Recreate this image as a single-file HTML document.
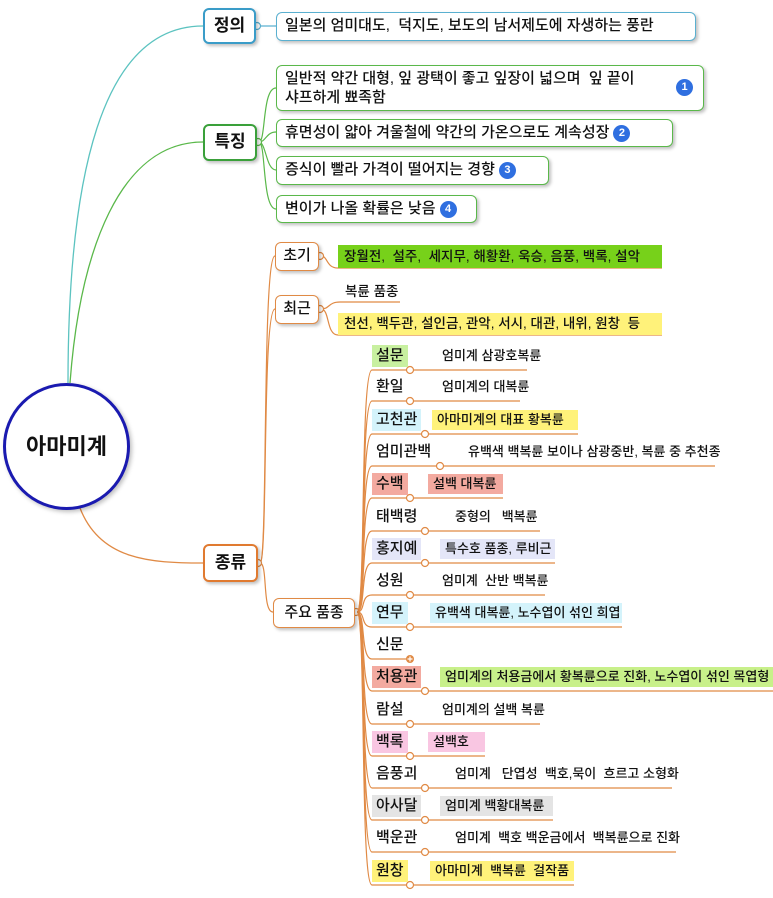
<!DOCTYPE html>
<html><head><meta charset="utf-8">
<style>
body{margin:0;width:773px;height:898px;background:#fff;position:relative;overflow:hidden;font-family:"Liberation Sans","Noto Sans CJK KR",sans-serif;color:#111;font-weight:500}
.a{position:absolute;white-space:nowrap}
.box{position:absolute;background:#fff;border-radius:6px;box-shadow:2px 2px 3px rgba(0,0,0,.25);box-sizing:border-box}
.t{position:absolute;white-space:nowrap;font-size:15px;line-height:20px}
.d{position:absolute;white-space:nowrap;font-size:13px;line-height:20px}
.n{display:inline-block;width:17px;height:17px;border-radius:50%;background:#2f6fe0;color:#fff;font-size:11px;line-height:17px;text-align:center;font-weight:bold;vertical-align:middle;margin-left:4px}
</style></head><body>
<svg class="a" style="left:0;top:0" width="773" height="898" fill="none">
<path d="M68 383 C68 180 100 26 203 26" stroke="#5cc3c0" stroke-width="1.3"/>
<path d="M70 383 C80 250 120 142 203 142" stroke="#5ab84a" stroke-width="1.3"/>
<path d="M80 508 C100 560 150 563 203 563" stroke="#e08a45" stroke-width="1.3"/>
<path d="M258 26 H276" stroke="#5ab0d0" stroke-width="1.2"/>
<g stroke="#5ab84a" stroke-width="1.2">
<path d="M259 142 C266 142 262 88 276 88"/>
<path d="M259 142 C266 142 266 132 276 132"/>
<path d="M259 142 C266 142 266 170 276 170"/>
<path d="M259 142 C266 142 262 209 276 209"/>
</g>
<g stroke="#e08a45" stroke-width="1.2">
<path d="M260 563 C268 563 262 256 275 256"/>
<path d="M260 563 C268 563 262 309 275 309"/>
<path d="M260 563 C268 563 262 612 273 612"/>
<path d="M321 256 C328 256 326 268 338 268 H662"/>
<path d="M321 309 C330 309 328 302 340 302 H400"/>
<path d="M321 309 C330 309 326 335 338 335 H662"/>
</g>
<g fill="#fff" stroke="#e08a45" stroke-width="1.2">
<circle cx="257" cy="26" r="3.5" stroke="#5ab0d0"/>
<circle cx="258" cy="142" r="3.5" stroke="#5ab84a"/>
<circle cx="258" cy="563" r="3.5"/>
<circle cx="320" cy="256" r="3.5"/>
<circle cx="320" cy="309" r="3.5"/>
<circle cx="356" cy="612" r="3.5"/>
</g>
</svg>
<svg class="a" style="left:0;top:0" width="773" height="898" fill="none" id="rs"></svg>

<div class="a" style="left:3px;top:383px;width:127px;height:127px;border:3px solid #1a1ab0;border-radius:50%;box-sizing:border-box;background:#fff;box-shadow:2px 2px 4px rgba(0,0,0,.25);text-align:center;line-height:121px;font-size:22px;font-weight:bold">아마미계</div>

<div class="box" style="left:203px;top:8px;width:53px;height:36px;border:2.5px solid #3a9cc8;text-align:center;line-height:31px;font-size:17px;font-weight:bold">정의</div>
<div class="box" style="left:276px;top:12px;width:420px;height:29px;border:1.5px solid #5ab0d0;padding-left:8px;font-size:15px;line-height:26px">일본의 엄미대도,&nbsp; 덕지도, 보도의 남서제도에 자생하는 풍란</div>

<div class="box" style="left:203px;top:124px;width:54px;height:37px;border:2.5px solid #3aa03a;text-align:center;line-height:32px;font-size:17px;font-weight:bold">특징</div>
<div class="box" style="left:276px;top:65px;width:428px;height:46px;border:1.5px solid #5ab84a;padding:3px 8px;font-size:15px;line-height:19px">일반적 약간 대형, 잎 광택이 좋고 잎장이 넓으며&nbsp; 잎 끝이<br>샤프하게 뾰족함<span class="n" style="position:absolute;right:10px;top:13px;margin:0">1</span></div>
<div class="box" style="left:276px;top:119px;width:397px;height:28px;border:1.5px solid #5ab84a;padding-left:8px;font-size:15px;line-height:25px">휴면성이 얇아 겨울철에 약간의 가온으로도 계속성장<span class="n">2</span></div>
<div class="box" style="left:276px;top:156px;width:273px;height:29px;border:1.5px solid #5ab84a;padding-left:8px;font-size:15px;line-height:26px">증식이 빨라 가격이 떨어지는 경향<span class="n">3</span></div>
<div class="box" style="left:276px;top:195px;width:201px;height:28px;border:1.5px solid #5ab84a;padding-left:8px;font-size:15px;line-height:25px">변이가 나올 확률은 낮음<span class="n">4</span></div>

<div class="box" style="left:203px;top:544px;width:55px;height:38px;border:2.5px solid #e07a30;text-align:center;line-height:33px;font-size:17px;font-weight:bold">종류</div>
<div class="box" style="left:275px;top:242px;width:44px;height:29px;border:1.5px solid #e08a45;text-align:center;line-height:26px;font-size:15px">초기</div>
<div class="a" style="left:338px;top:245px;width:324px;height:23px;background:#77d11a;font-size:13.5px;line-height:23px;padding-left:6px;box-sizing:border-box">장월전,&nbsp; 설주,&nbsp; 세지무, 해황환, 욱승, 음풍, 백록, 설악</div>
<div class="box" style="left:275px;top:295px;width:44px;height:29px;border:1.5px solid #e08a45;text-align:center;line-height:26px;font-size:15px">최근</div>
<div class="d" style="left:345px;top:282px;font-size:13.5px">복륜 품종</div>
<div class="a" style="left:338px;top:313px;width:324px;height:22px;background:#fff27a;font-size:13.5px;line-height:22px;padding-left:6px;box-sizing:border-box">천선, 백두관, 설인금, 관악, 서시, 대관, 내위, 원창&nbsp; 등</div>
<div class="box" style="left:273px;top:598px;width:82px;height:30px;border:1.5px solid #e08a45;text-align:center;line-height:27px;font-size:15px">주요 품종</div>

<div id="items"></div>
<script>
var rows=[
["설문",356,"#c8f0a0","엄미계 삼광호복륜",437,527,""],
["환일",387,"","엄미계의 대복륜",437,520,""],
["고천관",420,"#d4f3fb","아마미계의 대표 황복륜",432,578,"#fff27a"],
["엄미관백",452,"","유백색 백복륜 보이나 삼광중반, 복륜 중 추천종",463,715,""],
["수백",484,"#f3aaa0","설백 대복륜",428,503,"#f3aaa0"],
["태백령",517,"","중형의&nbsp;&nbsp; 백복륜",450,540,""],
["홍지예",549,"#e4e6f8","특수호 품종, 루비근",440,555,"#e4e6f8"],
["성원",581,"","엄미계&nbsp; 산반 백복륜",437,545,""],
["연무",613,"#d4f3fb","유백색 대복륜, 노수엽이 섞인 희엽",430,622,"#d4f3fb"],
["신문",645,"","",0,0,""],
["처용관",677,"#f3aaa0","엄미계의 처용금에서 황복륜으로 진화, 노수엽이 섞인 목엽형",440,773,"#c8f08a"],
["람설",710,"","엄미계의 설백 복륜",437,540,""],
["백록",742,"#f9c6e2","설백호",428,485,"#f9c6e2"],
["음풍괴",774,"","엄미계&nbsp;&nbsp; 단엽성&nbsp; 백호,묵이&nbsp; 흐르고 소형화",450,672,""],
["아사달",806,"#e4e4e4","엄미계 백황대복륜",440,553,"#e4e4e4"],
["백운관",838,"","엄미계&nbsp; 백호 백운금에서&nbsp; 백복륜으로 진화",450,676,""],
["원창",871,"#fff27a","아마미계&nbsp; 백복륜&nbsp; 걸작품",430,574,"#fff27a"]];
var h="",s="";
rows.forEach(function(r){
 var y=r[1],lw=r[0].length*15+8,lx=372,uy=y+14,cx=lx+lw;
 var end=r[5]||cx+2;
 s+='<path d="M357 612 C366 612 360 '+uy+' 372 '+uy+' H'+end+'" stroke="#e08a45" stroke-width="1.2"/>';
 if(r[0]=="신문") s+='<circle cx="'+cx+'" cy="'+uy+'" r="4" fill="#e08a45"/><path d="M'+(cx-2.5)+' '+uy+'H'+(cx+2.5)+'M'+cx+' '+(uy-2.5)+'V'+(uy+2.5)+'" stroke="#fff" stroke-width="1.2"/>';
 else s+='<circle cx="'+cx+'" cy="'+uy+'" r="3.5" fill="#fff" stroke="#e08a45" stroke-width="1.2"/>';
 h+='<div class="t" style="left:'+lx+'px;top:'+(y-11)+'px;padding:1px 4px;'+(r[2]?'background:'+r[2]:'')+'">'+r[0]+'</div>';
 if(r[3]) h+='<div class="d" style="left:'+r[4]+'px;top:'+(y-10)+'px;padding:0 5px;'+(r[6]?'background:'+r[6]+';width:'+(r[5]-r[4])+'px;box-sizing:border-box;':'')+'">'+r[3]+'</div>';
});
document.getElementById('rs').innerHTML=s;
document.getElementById('items').innerHTML=h;
</script>
</body></html>
